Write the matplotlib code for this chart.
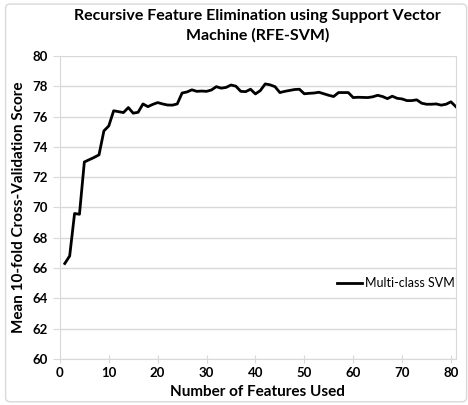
import matplotlib
matplotlib.use('Agg')
import matplotlib.pyplot as plt
from matplotlib.patches import FancyBboxPatch

# 数据：近似值
n_features = list(range(1, 82))
cv_score = [
    66.3, 66.8, 69.6, 69.55, 73.0, 73.15, 73.3, 73.47, 75.05, 75.38,
    76.38, 76.32, 76.26, 76.59, 76.22, 76.28, 76.83, 76.65, 76.8, 76.92,
    76.83, 76.76, 76.75, 76.83, 77.55, 77.62, 77.76, 77.66, 77.68, 77.66,
    77.75, 77.97, 77.87, 77.92, 78.08, 78.0, 77.66, 77.64, 77.8, 77.49,
    77.71, 78.15, 78.09, 77.97, 77.58, 77.66, 77.72, 77.78, 77.8, 77.5,
    77.53, 77.55, 77.6, 77.5, 77.4, 77.32, 77.58, 77.58, 77.58, 77.25,
    77.27, 77.26, 77.25, 77.3, 77.4, 77.32, 77.18, 77.34, 77.2, 77.16,
    77.05, 77.05, 77.1, 76.88, 76.81, 76.81, 76.83, 76.75, 76.81, 76.97,
    76.65,
]
x_ticks = [0, 10, 20, 30, 40, 50, 60, 70, 80]
y_ticks = [60, 62, 64, 66, 68, 70, 72, 74, 76, 78, 80]

plt.rcParams['font.family'] = ['Lato', 'DejaVu Sans']

fig = plt.figure(figsize=(4.68, 4.05), dpi=100)

# 外框
border = FancyBboxPatch((0.012, 0.008), 0.985, 0.982,
                        boxstyle='round,pad=0,rounding_size=0.01',
                        transform=fig.transFigure, fill=False,
                        edgecolor='#d9d9d9', linewidth=1.0)
fig.patches.append(border)

ax = fig.add_axes([0.128, 0.1136, 0.846, 0.7484])
ax.plot(n_features, cv_score, color='black', linewidth=2.0, label='Multi-class SVM')

ax.set_xlim(0, 81)
ax.set_ylim(60, 80)
ax.set_xticks(x_ticks)
ax.set_yticks(y_ticks)
ax.grid(axis='y', color='#d9d9d9', linewidth=1.0)
ax.set_axisbelow(True)

for side in ['left', 'bottom', 'right']:
    ax.spines[side].set_color('#d9d9d9')
ax.spines['top'].set_visible(False)
ax.tick_params(axis='x', direction='inout', length=6, color='#d9d9d9',
               labelsize=9.5, pad=3)
ax.tick_params(axis='y', direction='out', length=5, color='#d9d9d9',
               labelsize=9.5, pad=4)
for lab in ax.get_xticklabels() + ax.get_yticklabels():
    lab.set_fontweight('bold')

ax.set_xlabel('Number of Features Used', fontsize=11, fontweight='bold', labelpad=4)
ax.set_ylabel('Mean 10-fold Cross-Validation Score', fontsize=11,
              fontweight='bold', labelpad=4)
ax.set_title('Recursive Feature Elimination using Support Vector\nMachine (RFE-SVM)',
             fontsize=11.5, fontweight='bold', pad=12, linespacing=1.4)

ax.legend(loc='center right', bbox_to_anchor=(1.025, 0.25), frameon=False,
          fontsize=9, handlelength=2.0, handletextpad=0.2)

plt.savefig('out.png', dpi=100)
plt.close()
